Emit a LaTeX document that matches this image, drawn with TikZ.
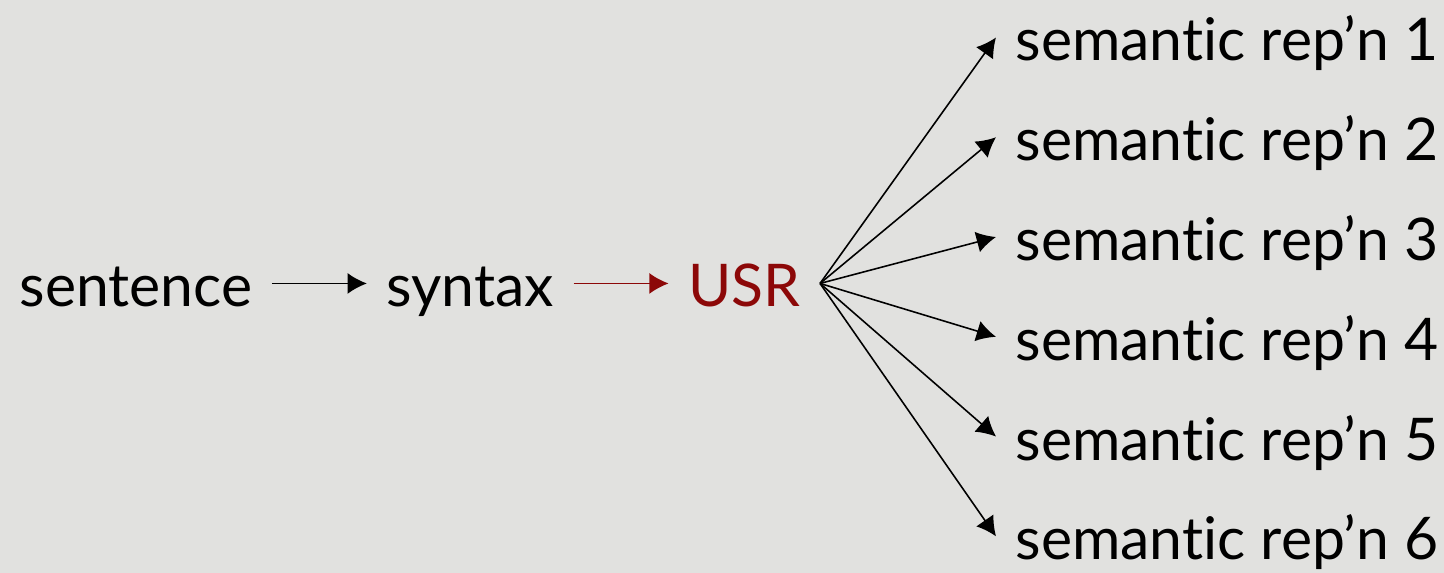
\documentclass[tikz,border=0pt]{standalone}
\usepackage{fontspec}
\setmainfont{Lato}[Ligatures=NoCommon]
\usetikzlibrary{positioning, arrows.meta}
\definecolor{usrred}{RGB}{140,8,8}
\definecolor{paper}{RGB}{225,225,223}

\begin{document}
\begin{tikzpicture}[x=0.02cm, y=-0.02cm,
     node distance = 1.04cm and 1.9cm,
       word/.style = {inner xsep=11pt, inner ysep=0pt, text height=26.8pt, text depth=0pt,
                      font=\fontsize{33.5}{40}\selectfont},
        rep/.style = {word, anchor=north west},
       link/.style = {-{Latex[length=11pt,width=12pt]}, line width=0.9pt}
                        ]
\useasboundingbox[fill=paper] (0,0) rectangle (1444,573);
\node (sentence) [word, anchor=base west] at (0,307) {sentence};
\node (syntax)   [word, right=of sentence] {syntax};
\node (usr)      [word, right=of syntax, text=usrred] {USR};
\node (rep1) [word, anchor=base west] at (996,61) {semantic rep'n 1};
\node (rep2) [below=of rep1.south west, rep] {semantic rep'n 2};
\node (rep3) [below=of rep2.south west, rep] {semantic rep'n 3};
\node (rep4) [below=of rep3.south west, rep] {semantic rep'n 4};
\node (rep5) [below=of rep4.south west, rep] {semantic rep'n 5};
\node (rep6) [below=of rep5.south west, rep] {semantic rep'n 6};
\draw[link] (sentence) -- (syntax);
\draw[link, usrred] (syntax) -- (usr);
\draw[link] (usr.east) -- (rep1.west);
\draw[link] (usr.east) -- (rep2.west);
\draw[link] (usr.east) -- (rep3.west);
\draw[link] (usr.east) -- (rep4.west);
\draw[link] (usr.east) -- (rep5.west);
\draw[link] (usr.east) -- (rep6.west);
\end{tikzpicture}
\end{document}
